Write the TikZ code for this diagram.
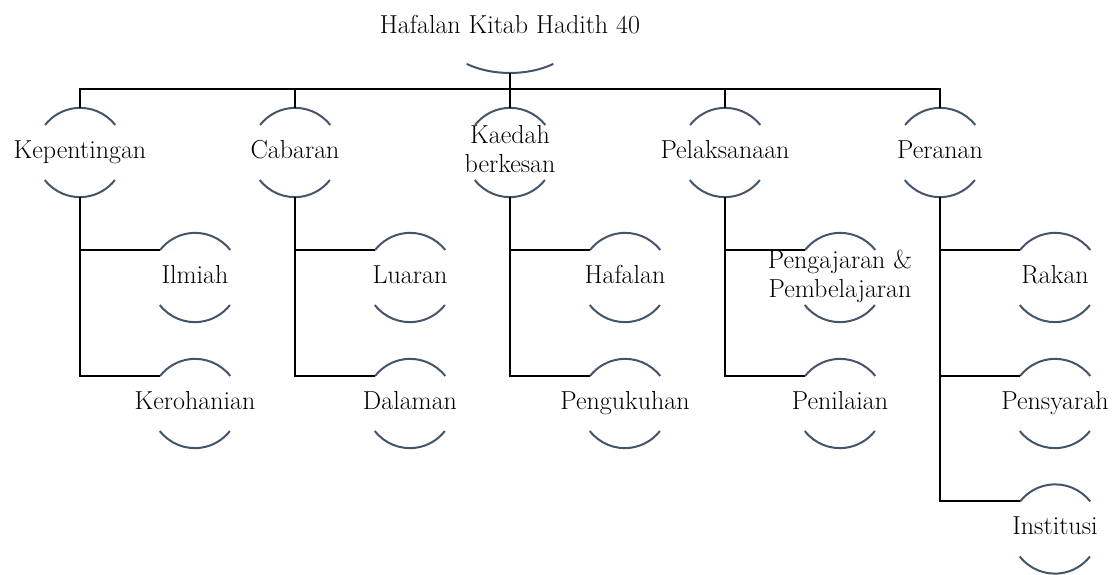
\documentclass[tikz,border=0pt]{standalone}
\usetikzlibrary{shapes.geometric}
\definecolor{arcblue}{RGB}{68,84,106}
\tikzset{
  topnode/.style={ellipse, minimum width=144pt, minimum height=90pt, inner sep=0pt, font=\fontsize{26}{29}\selectfont},
  lvl/.style={circle, minimum size=89pt, inner sep=0pt, font=\fontsize{26}{29}\selectfont},
  arcline/.style={draw=arcblue, line width=2pt},
  conn/.style={draw=black, line width=2pt},
}
\newcommand{\txt}[1]{\makebox[0pt]{\begin{tabular}{@{}c@{}}#1\end{tabular}}}
\begin{document}
\begin{tikzpicture}[x=1pt,y=1pt]
  \useasboundingbox (0,0) rectangle (1112,574);
  % root
  \node[topnode] (root) at (510,546) {\txt{Hafalan Kitab Hadith 40}};
  % first level
  \node[lvl] (kep) at (80,421.5) {\txt{Kepentingan}};
  \node[lvl] (cab) at (295,421.5) {\txt{Cabaran}};
  \node[lvl] (kae) at (510,421.5) {\txt{Kaedah\\berkesan}};
  \node[lvl] (pel) at (725,421.5) {\txt{Pelaksanaan}};
  \node[lvl] (per) at (940,421.5) {\txt{Peranan}};
  % second level
  \node[lvl] (ilm) at (195,296.5) {\txt{Ilmiah}};
  \node[lvl] (ker) at (195,170.5) {\txt{Kerohanian}};
  \node[lvl] (lua) at (410,296.5) {\txt{Luaran}};
  \node[lvl] (dal) at (410,170.5) {\txt{Dalaman}};
  \node[lvl] (haf) at (625,296.5) {\txt{Hafalan}};
  \node[lvl] (pgk) at (625,170.5) {\txt{Pengukuhan}};
  \node[lvl] (pjr) at (840,296.5) {\txt{Pengajaran \&\\Pembelajaran}};
  \node[lvl] (pnl) at (840,170.5) {\txt{Penilaian}};
  \node[lvl] (rak) at (1055,296.5) {\txt{Rakan}};
  \node[lvl] (psy) at (1055,170.5) {\txt{Pensyarah}};
  \node[lvl] (ins) at (1055,45) {\txt{Institusi}};
  % arcs
  \draw[arcline] (root.center) ++(233:72pt and 45pt)
    arc[start angle=233, end angle=307, x radius=72pt, y radius=45pt];
  \foreach \n in {kep,cab,kae,pel,per,ilm,ker,lua,dal,haf,pgk,pjr,pnl,rak,psy,ins}
    \draw[arcline] (\n.38) arc[start angle=38, end angle=142, radius=44.5pt]
      (\n.218) arc[start angle=218, end angle=322, radius=44.5pt];
  % connectors
  \foreach \n in {kep,cab,kae,pel,per}
    \draw[conn] (root.south) -- ++(0,-16) -| (\n.north);
  \draw[conn] (kep.south) |- (ilm.142);
  \draw[conn] (kep.south) |- (ker.142);
  \draw[conn] (cab.south) |- (lua.142);
  \draw[conn] (cab.south) |- (dal.142);
  \draw[conn] (kae.south) |- (haf.142);
  \draw[conn] (kae.south) |- (pgk.142);
  \draw[conn] (pel.south) |- (pjr.142);
  \draw[conn] (pel.south) |- (pnl.142);
  \draw[conn] (per.south) |- (rak.142);
  \draw[conn] (per.south) |- (psy.142);
  \draw[conn] (per.south) |- (ins.142);
\end{tikzpicture}
\end{document}
